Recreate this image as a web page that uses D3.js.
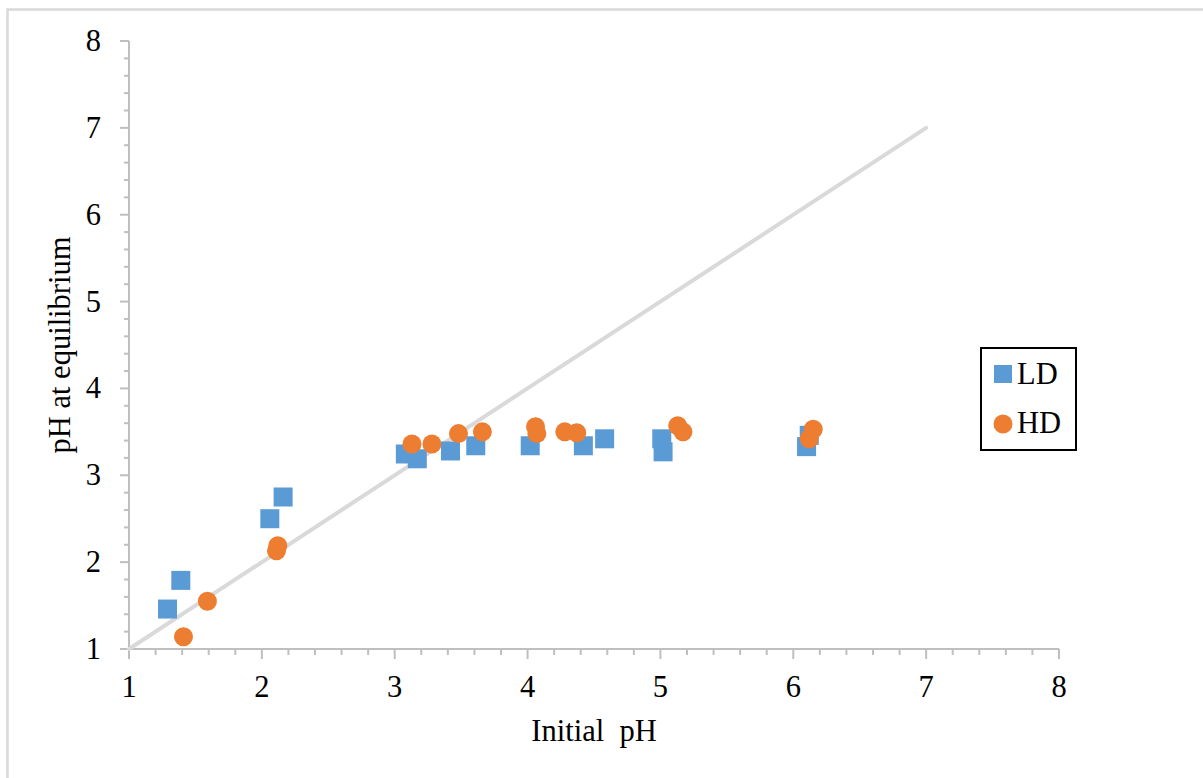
<!DOCTYPE html>
<html>
<head>
<meta charset="utf-8">
<script src="https://cdn.jsdelivr.net/npm/d3@7"></script>
<style>
  html, body { margin: 0; padding: 0; background: #fff; }
  svg { display: block; }
  text { font-family: "Liberation Serif", "Times New Roman", serif; fill: #000; }
</style>
</head>
<body>
<svg id="chart" width="1203" height="778"></svg>
<script>
// Initial pH vs pH at equilibrium for the LD and HD materials
const ldInitial = [1.29, 1.39, 2.06, 2.16, 3.08, 3.17, 3.42, 3.61, 4.02, 4.42, 4.58, 5.01, 5.02, 6.10, 6.12];
const ldEquil   = [1.46, 1.79, 2.50, 2.75, 3.245, 3.19, 3.28, 3.34, 3.34, 3.34, 3.42, 3.42, 3.27, 3.33, 3.46];

const hdInitial = [1.41, 1.59, 2.11, 2.12, 3.13, 3.28, 3.48, 3.66, 4.06, 4.07, 4.28, 4.37, 5.13, 5.17, 6.15, 6.12];
const hdEquil   = [1.14, 1.55, 2.13, 2.19, 3.36, 3.36, 3.48, 3.50, 3.56, 3.48, 3.50, 3.49, 3.57, 3.50, 3.53, 3.42];

// 1:1 reference line
const refLineX = [1, 7];
const refLineY = [1, 7];

const xTicks = [1, 2, 3, 4, 5, 6, 7, 8];
const yTicks = [1, 2, 3, 4, 5, 6, 7, 8];
const seriesNames = ["LD", "HD"];

const svg = d3.select("#chart");

// light frame around the chart area
svg.append("rect")
  .attr("x", 7.5).attr("y", 9.5)
  .attr("width", 1230).attr("height", 800)
  .attr("fill", "none")
  .attr("stroke", "#d9d9d9")
  .attr("stroke-width", 2.5);

const x = d3.scaleLinear().domain([1, 8]).range([129, 1059]);
const y = d3.scaleLinear().domain([1, 8]).range([649, 41]);

const axisColor = "#bfbfbf";
const fontSize = 30.5;
const minorSteps = d3.range(1, 8.001, 0.2).map(v => +v.toFixed(1));

// tick marks (long at whole units, short between)
svg.append("g").selectAll("line")
  .data(minorSteps)
  .join("line")
  .attr("x1", d => x(d)).attr("x2", d => x(d))
  .attr("y1", y(1)).attr("y2", d => y(1) + (Number.isInteger(d) ? 10 : 6))
  .attr("stroke", axisColor).attr("stroke-width", 2);

svg.append("g").selectAll("line")
  .data(minorSteps)
  .join("line")
  .attr("y1", d => y(d)).attr("y2", d => y(d))
  .attr("x1", x(1)).attr("x2", d => x(1) - (Number.isInteger(d) ? 9 : 5))
  .attr("stroke", axisColor).attr("stroke-width", 2);

// axis lines
svg.append("line")
  .attr("x1", x(1)).attr("x2", x(8))
  .attr("y1", y(1)).attr("y2", y(1))
  .attr("stroke", axisColor).attr("stroke-width", 2);
svg.append("line")
  .attr("x1", x(1)).attr("x2", x(1))
  .attr("y1", y(1)).attr("y2", y(8))
  .attr("stroke", axisColor).attr("stroke-width", 2);

// tick labels
svg.append("g").selectAll("text")
  .data(xTicks)
  .join("text")
  .attr("x", d => x(d))
  .attr("y", 697)
  .attr("text-anchor", "middle")
  .attr("font-size", fontSize)
  .text(d => d);

svg.append("g").selectAll("text")
  .data(yTicks)
  .join("text")
  .attr("x", 101)
  .attr("y", d => y(d) + 10)
  .attr("text-anchor", "end")
  .attr("font-size", fontSize)
  .text(d => d);

// axis titles
svg.append("text")
  .attr("x", (x(1) + x(8)) / 2)
  .attr("y", 741)
  .attr("text-anchor", "middle")
  .attr("font-size", fontSize)
  .attr("xml:space", "preserve")
  .text("Initial  pH");

svg.append("text")
  .attr("transform", `translate(70, ${(y(1) + y(8)) / 2}) rotate(-90)`)
  .attr("text-anchor", "middle")
  .attr("font-size", fontSize)
  .text("pH at equilibrium");

// 1:1 line
svg.append("line")
  .attr("x1", x(refLineX[0])).attr("y1", y(refLineY[0]))
  .attr("x2", x(refLineX[1])).attr("y2", y(refLineY[1]))
  .attr("stroke", "#d9d9d9")
  .attr("stroke-width", 4)
  .attr("stroke-linecap", "round");

const blue = "#5b9bd5";
const orange = "#ed7d31";
const sq = 19;

const ld = ldInitial.map((v, i) => ({ x: v, y: ldEquil[i] }));
const hd = hdInitial.map((v, i) => ({ x: v, y: hdEquil[i] }));

svg.append("g").selectAll("rect")
  .data(ld)
  .join("rect")
  .attr("x", d => x(d.x) - sq / 2)
  .attr("y", d => y(d.y) - sq / 2)
  .attr("width", sq).attr("height", sq)
  .attr("fill", blue);

svg.append("g").selectAll("circle")
  .data(hd)
  .join("circle")
  .attr("cx", d => x(d.x))
  .attr("cy", d => y(d.y))
  .attr("r", 9.5)
  .attr("fill", orange);

// legend
const lg = svg.append("g");
lg.append("rect")
  .attr("x", 981).attr("y", 348)
  .attr("width", 95).attr("height", 102)
  .attr("fill", "#fff")
  .attr("stroke", "#000")
  .attr("stroke-width", 2);
lg.append("rect")
  .attr("x", 994).attr("y", 365)
  .attr("width", 18).attr("height", 18)
  .attr("fill", blue);
lg.append("circle")
  .attr("cx", 1003).attr("cy", 424)
  .attr("r", 9.5)
  .attr("fill", orange);
lg.selectAll("text")
  .data(seriesNames)
  .join("text")
  .attr("x", 1017)
  .attr("y", (d, i) => 384 + i * 49)
  .attr("font-size", fontSize)
  .text(d => d);
</script>
</body>
</html>
